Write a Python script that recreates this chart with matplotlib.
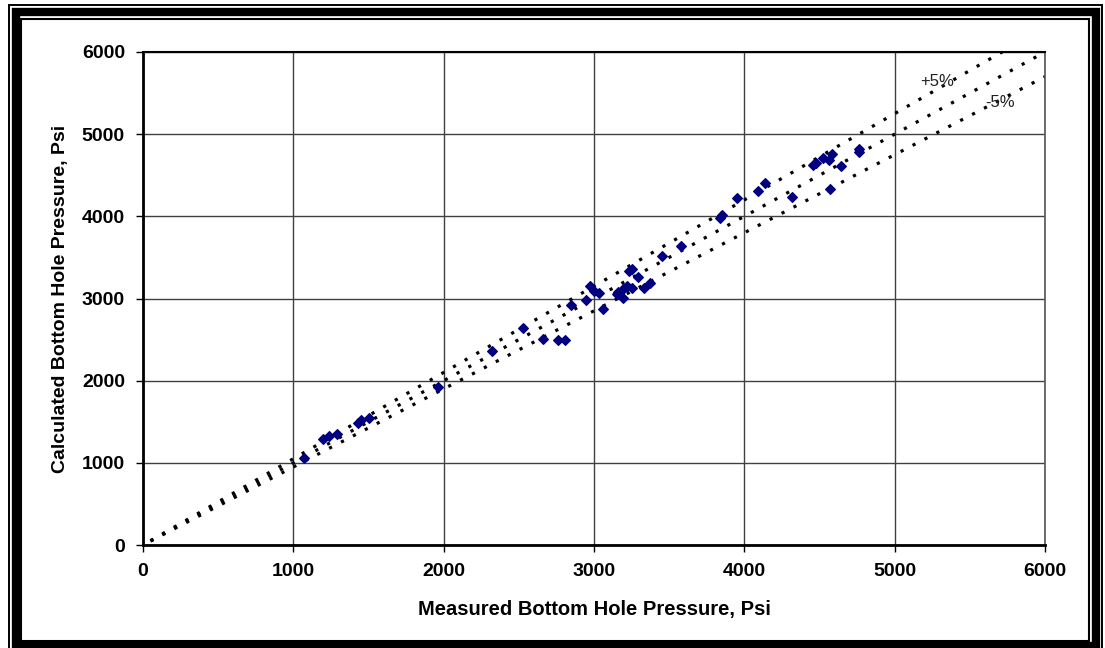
import matplotlib
matplotlib.use("Agg")
import matplotlib.pyplot as plt
from matplotlib.patches import Rectangle

plt.rcParams['font.family'] = ['Liberation Sans', 'DejaVu Sans']

# measured vs calculated bottom hole pressure, psi
measured = [1070, 1200, 1240, 1290, 1430, 1450, 1500, 1960,
            2320, 2530, 2660, 2760, 2810, 2850, 2950, 2975, 3000, 3030,
            3060, 3150, 3160, 3190, 3190, 3220, 3250, 3235, 3255, 3290,
            3330, 3370, 3450, 3580, 3840, 3850, 3950, 4090, 4140, 4320,
            4460, 4480, 4520, 4560, 4580, 4640, 4570, 4760, 4765]
calculated = [1060, 1290, 1330, 1350, 1480, 1520, 1540, 1920,
              2360, 2640, 2510, 2495, 2495, 2920, 2980, 3150, 3090, 3065,
              2870, 3055, 3080, 3005, 3115, 3150, 3130, 3335, 3360, 3260,
              3130, 3190, 3515, 3640, 3980, 4015, 4220, 4310, 4400, 4235,
              4625, 4650, 4710, 4685, 4760, 4610, 4330, 4785, 4820]

line_x = [50, 6000]
bands = [1.0, 1.05, 0.95]

fig = plt.figure(figsize=(11.05, 6.48), dpi=100)
ax = fig.add_axes([143 / 1105, 103 / 648, 902 / 1105, 493 / 648])

for k in bands:
    ax.plot(line_x, [k * v for v in line_x], color='black', linestyle=(0, (1, 3.2)),
            linewidth=2.3, dash_capstyle='butt')

ax.scatter(measured, calculated, marker='D', s=24, color='#000080', zorder=3)

ax.text(5170, 5635, '+5%', fontsize=12, color='#222222', va='center')
ax.text(5600, 5380, '-5%', fontsize=12, color='#222222', va='center')

ax.set_xlim(0, 6000)
ax.set_ylim(0, 6000)
ax.set_xticks(range(0, 6001, 1000))
ax.set_yticks(range(0, 6001, 1000))
ax.grid(True, color='#404040', linewidth=1)
ax.set_axisbelow(True)
ax.tick_params(direction='out', length=5, width=1, labelsize=14, pad=8)
for lab in ax.get_xticklabels() + ax.get_yticklabels():
    lab.set_fontweight('bold')

ax.spines['left'].set_linewidth(2)
ax.spines['bottom'].set_linewidth(2)
ax.spines['top'].set_linewidth(1.5)
ax.spines['right'].set_linewidth(1.2)
ax.spines['right'].set_color('#555555')

ax.set_xlabel('Measured Bottom Hole Pressure, Psi', fontsize=14.5, fontweight='bold', labelpad=14)
ax.set_ylabel('Calculated Bottom Hole Pressure, Psi', fontsize=14, fontweight='bold', labelpad=9)

# double frame around the chart area
W, H = 1105, 648
def frame(x0, y0, x1, y1, lw):
    fig.patches.append(Rectangle((x0 / W, 1 - y1 / H), (x1 - x0) / W, (y1 - y0) / H,
                                 transform=fig.transFigure, fill=False,
                                 edgecolor='black', linewidth=lw))

frame(9, 5, 1102, 652, 1.4)
frame(15.5, 11.5, 1096, 646, 6.0)
frame(21, 19, 1089, 640.5, 1.5)

fig.savefig('out.png', dpi=100)
